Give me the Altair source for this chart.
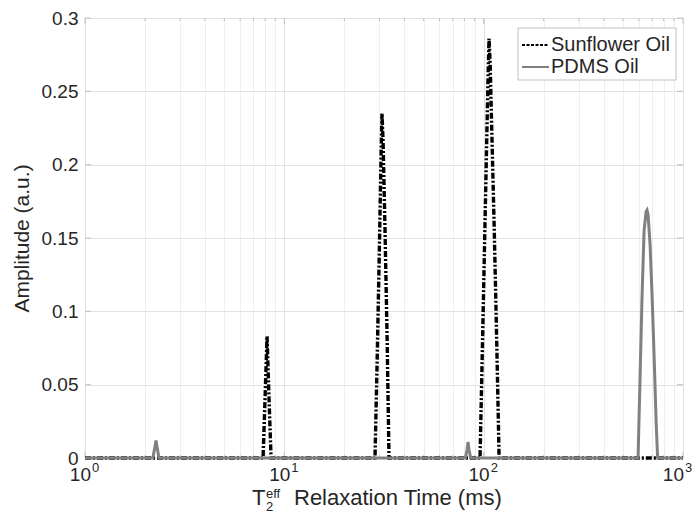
import altair as alt
import pandas as pd

# ---------------- data ----------------
sun_t = [1, 7.82, 8.0, 8.19, 8.38, 8.58,
         28.5, 29.2, 29.9, 30.6, 30.9, 31.3, 32.0, 32.8, 33.5,
         95.9, 98.2, 100.5, 102.8, 105.2, 106.4, 107.7, 110.2, 112.8, 115.4, 118.1, 119.5,
         1000]
sun_a = [0, 0, 0.04, 0.083, 0.04, 0,
         0, 0.065, 0.135, 0.21, 0.235, 0.215, 0.155, 0.08, 0,
         0, 0.065, 0.13, 0.195, 0.26, 0.286, 0.27, 0.215, 0.16, 0.1, 0.035, 0,
         0]

pdms_t = [1, 2.19, 2.245, 2.27, 2.295, 2.35,
          81.0, 82.6, 83.5, 84.4, 86.0,
          595, 609, 623, 638, 653, 660, 668, 684, 700, 716, 733, 746,
          1000]
pdms_a = [0, 0, 0.008, 0.012, 0.008, 0,
          0, 0.006, 0.011, 0.006, 0,
          0, 0.055, 0.11, 0.155, 0.168, 0.169, 0.166, 0.145, 0.11, 0.07, 0.025, 0,
          0]

series_names = ["Sunflower Oil", "PDMS Oil"]

x_decades = [1, 10, 100, 1000]
x_exponents = ["0", "1", "2", "3"]
x_grid_values = [1, 2, 3, 4, 5, 6, 7, 8, 9,
                 10, 20, 30, 40, 50, 60, 70, 80, 90,
                 100, 200, 300, 400, 500, 600, 700, 800, 900, 1000]
x_minor = [v for v in x_grid_values if v not in x_decades]
y_ticks = [0, 0.05, 0.1, 0.15, 0.2, 0.25, 0.3]

# ---------------- layout ----------------
W, H = 598, 440
FONT = "Liberation Sans"
TXT = "#262626"
FRAME = "#c0c0c0"
GRID_MAJ = "#e2e2e2"
GRID_MIN = "#eeeeee"

sun_df = pd.DataFrame({"t": sun_t, "amp": sun_a, "series": series_names[0]})
pdms_df = pd.DataFrame({"t": pdms_t, "amp": pdms_a, "series": series_names[1]})

xscale = alt.Scale(type="log", domain=[1, 1000], nice=False)
yscale = alt.Scale(domain=[0, 0.3], nice=False, zero=False)

xaxis = alt.Axis(values=x_grid_values, labels=False, ticks=False, domain=False,
                 grid=True,
                 gridColor=alt.condition("indexof([1, 10, 100, 1000], datum.value) >= 0",
                                         alt.value(GRID_MAJ), alt.value(GRID_MIN)),
                 gridWidth=1, title=None)
yaxis = alt.Axis(values=y_ticks, format="~g", ticks=False, domain=False,
                 grid=True, gridColor=GRID_MAJ, gridWidth=1,
                 labelFontSize=19, labelFont=FONT, labelColor=TXT, labelPadding=7,
                 title="Amplitude (a.u.)", titleFontSize=21, titleFont=FONT,
                 titleFontWeight="normal", titleColor=TXT, titlePadding=9)


def X(field="t"):
    return alt.X(f"{field}:Q", scale=xscale, axis=xaxis)


def Y(field="amp"):
    return alt.Y(f"{field}:Q", scale=yscale, axis=yaxis)


sun_line = alt.Chart(sun_df).mark_line(
    color="black", strokeWidth=3.4, strokeDash=[6, 2, 2, 2], clip=False
).encode(x=X(), y=Y(), order="t:Q")

pdms_line = alt.Chart(pdms_df).mark_line(
    color="#808080", strokeWidth=3, clip=False
).encode(x=X(), y=Y(), order="t:Q")

# inner ticks (MATLAB style)
maj_df = pd.DataFrame({"t": x_decades})
min_df = pd.DataFrame({"t": x_minor})
ytk_df = pd.DataFrame({"v": y_ticks})

tick_layers = []
for df, ln in [(maj_df, 6), (min_df, 3)]:
    tick_layers.append(alt.Chart(df).mark_rule(color=FRAME, strokeWidth=1).encode(
        x=X(), y=alt.value(H), y2=alt.value(H - ln)))
    tick_layers.append(alt.Chart(df).mark_rule(color=FRAME, strokeWidth=1).encode(
        x=X(), y=alt.value(0), y2=alt.value(ln)))
tick_layers.append(alt.Chart(ytk_df).mark_rule(color=FRAME, strokeWidth=1).encode(
    y=Y("v"), x=alt.value(0), x2=alt.value(6)))
tick_layers.append(alt.Chart(ytk_df).mark_rule(color=FRAME, strokeWidth=1).encode(
    y=Y("v"), x=alt.value(W), x2=alt.value(W - 6)))

# x tick labels: 10 with superscript exponent
lab_df = pd.DataFrame({"t": x_decades, "exp": x_exponents, "base": ["10"] * 4})
inner = alt.datum.t < 1000
last = alt.datum.t >= 1000
xlab_base = alt.Chart(lab_df).transform_filter(inner).mark_text(
    font=FONT, fontSize=19, color=TXT, align="right", baseline="alphabetic", dx=6
).encode(x=X(), y=alt.value(H + 23), text="base:N")
xlab_exp = alt.Chart(lab_df).transform_filter(inner).mark_text(
    font=FONT, fontSize=13, color=TXT, align="left", baseline="alphabetic", dx=7
).encode(x=X(), y=alt.value(H + 14), text="exp:N")
xlab_base_last = alt.Chart(lab_df).transform_filter(last).mark_text(
    font=FONT, fontSize=19, color=TXT, align="right", baseline="alphabetic", dx=1
).encode(x=X(), y=alt.value(H + 23), text="base:N")
xlab_exp_last = alt.Chart(lab_df).transform_filter(last).mark_text(
    font=FONT, fontSize=13, color=TXT, align="left", baseline="alphabetic", dx=2
).encode(x=X(), y=alt.value(H + 14), text="exp:N")


# x axis title with sub/superscript
def label(txt, x, y, size, align="left"):
    return alt.Chart(pd.DataFrame({"s": [txt]})).mark_text(
        font=FONT, fontSize=size, color=TXT, align=align, baseline="alphabetic"
    ).encode(x=alt.value(x), y=alt.value(y), text="s:N")


xt_T = label("T", 167, H + 47, 22)
xt_sup = label("eff", 181, H + 40, 13)
xt_sub = label("2", 181, H + 53, 13)
xt_rest = label("Relaxation Time (ms)", 209, H + 47, 22)

# legend (manual, MATLAB style box)
one = pd.DataFrame({"a": [0]})
leg_box = alt.Chart(one).mark_rect(
    fill="white", stroke=FRAME, strokeWidth=1
).encode(x=alt.value(433), x2=alt.value(591), y=alt.value(10), y2=alt.value(62))
leg_sun = alt.Chart(one).mark_rule(
    color="black", strokeWidth=2, strokeDash=[3, 1.5]
).encode(x=alt.value(437), x2=alt.value(464), y=alt.value(27))
leg_pdms = alt.Chart(one).mark_rule(
    color="#808080", strokeWidth=2
).encode(x=alt.value(437), x2=alt.value(464), y=alt.value(49))
leg_t1 = alt.Chart(pd.DataFrame({"s": [series_names[0]]})).mark_text(
    font=FONT, fontSize=20, color=TXT, align="left", baseline="middle"
).encode(x=alt.value(466), y=alt.value(27), text="s:N")
leg_t2 = alt.Chart(pd.DataFrame({"s": [series_names[1]]})).mark_text(
    font=FONT, fontSize=20, color=TXT, align="left", baseline="middle"
).encode(x=alt.value(466), y=alt.value(49), text="s:N")

chart = alt.layer(
    *tick_layers, sun_line, pdms_line,
    xlab_base, xlab_exp, xlab_base_last, xlab_exp_last,
    xt_T, xt_sup, xt_sub, xt_rest,
    leg_box, leg_sun, leg_pdms, leg_t1, leg_t2
).properties(
    width=W, height=H,
    autosize=alt.AutoSizeParams(type="none"),
    padding={"left": 77, "top": 10, "right": 9, "bottom": 55},
    background="white"
).configure_view(stroke=FRAME, strokeWidth=1)

chart.save("out.html", embed_options={"renderer": "svg", "actions": False})
